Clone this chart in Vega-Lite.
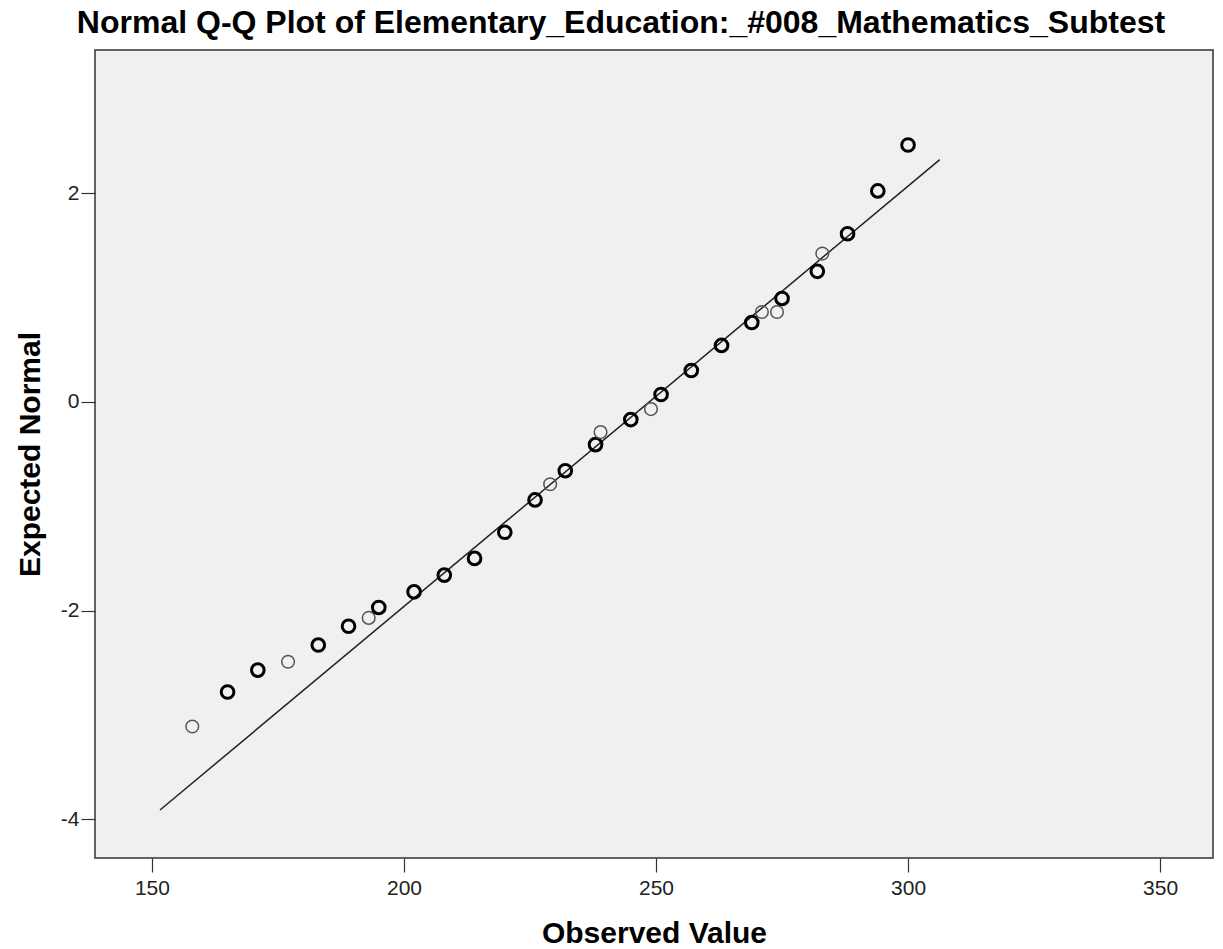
{
  "$schema": "https://vega.github.io/schema/vega-lite/v6.json",
  "width": 1118,
  "height": 808,
  "autosize": "none",
  "padding": {"left": 95, "top": 50, "right": 10, "bottom": 91},
  "background": "white",
  "title": {
    "text": "Normal Q-Q Plot of Elementary_Education:_#008_Mathematics_Subtest",
    "font": "Liberation Sans",
    "fontSize": 32,
    "fontWeight": "bold",
    "color": "black",
    "anchor": "middle",
    "dx": -33,
    "offset": 10
  },
  "config": {
    "view": {"fill": "#f0f0f0", "stroke": "#333333", "strokeWidth": 1.5},
    "axis": {
      "domain": false,
      "grid": false,
      "tickColor": "#333333",
      "tickSize": 14,
      "tickWidth": 1.2,
      "labelFont": "Liberation Sans",
      "labelFontSize": 21,
      "labelColor": "#222222",
      "titleFont": "Liberation Sans",
      "titleFontSize": 30,
      "titleFontWeight": "bold",
      "titleColor": "black"
    }
  },
  "datasets": {
    "points": [
      {"observed": 158, "expected": -3.11, "cases": 1},
      {"observed": 165, "expected": -2.78, "cases": 2},
      {"observed": 171, "expected": -2.57, "cases": 2},
      {"observed": 177, "expected": -2.49, "cases": 1},
      {"observed": 183, "expected": -2.33, "cases": 2},
      {"observed": 189, "expected": -2.15, "cases": 2},
      {"observed": 193, "expected": -2.07, "cases": 1},
      {"observed": 195, "expected": -1.97, "cases": 2},
      {"observed": 202, "expected": -1.82, "cases": 2},
      {"observed": 208, "expected": -1.66, "cases": 2},
      {"observed": 214, "expected": -1.50, "cases": 2},
      {"observed": 220, "expected": -1.25, "cases": 2},
      {"observed": 226, "expected": -0.94, "cases": 2},
      {"observed": 229, "expected": -0.79, "cases": 1},
      {"observed": 232, "expected": -0.66, "cases": 2},
      {"observed": 238, "expected": -0.41, "cases": 2},
      {"observed": 239, "expected": -0.29, "cases": 1},
      {"observed": 245, "expected": -0.17, "cases": 2},
      {"observed": 249, "expected": -0.07, "cases": 1},
      {"observed": 251, "expected": 0.07, "cases": 2},
      {"observed": 257, "expected": 0.30, "cases": 2},
      {"observed": 263, "expected": 0.54, "cases": 2},
      {"observed": 269, "expected": 0.76, "cases": 2},
      {"observed": 271, "expected": 0.86, "cases": 1},
      {"observed": 274, "expected": 0.86, "cases": 1},
      {"observed": 275, "expected": 0.99, "cases": 2},
      {"observed": 282, "expected": 1.25, "cases": 2},
      {"observed": 283, "expected": 1.42, "cases": 1},
      {"observed": 288, "expected": 1.61, "cases": 2},
      {"observed": 294, "expected": 2.02, "cases": 2},
      {"observed": 300, "expected": 2.46, "cases": 2}
    ],
    "refline": [
      {"observed": 151.6, "expected": -3.91},
      {"observed": 306.3, "expected": 2.32}
    ]
  },
  "layer": [
    {
      "data": {"name": "refline"},
      "mark": {"type": "line", "color": "#222222", "strokeWidth": 1.5},
      "encoding": {
        "x": {"field": "observed", "type": "quantitative"},
        "y": {"field": "expected", "type": "quantitative"}
      }
    },
    {
      "data": {"name": "points"},
      "mark": {"type": "point", "filled": false, "size": 160, "opacity": 1},
      "encoding": {
        "x": {
          "field": "observed",
          "type": "quantitative",
          "title": "Observed Value",
          "scale": {"domain": [138.7, 360.5], "nice": false, "zero": false},
          "axis": {"values": [150, 200, 250, 300, 350], "titlePadding": 20, "labelPadding": 5}
        },
        "y": {
          "field": "expected",
          "type": "quantitative",
          "title": "Expected Normal",
          "scale": {"domain": [-4.37, 3.37], "nice": false, "zero": false},
          "axis": {
            "values": [-4, -2, 0, 2],
            "labelExpr": "datum.value < 0 ? '-' + abs(datum.value) : '' + datum.value",
            "titlePadding": 15,
            "labelPadding": 2
          }
        },
        "stroke": {
          "field": "cases",
          "type": "ordinal",
          "scale": {"domain": [1, 2], "range": ["#555555", "#000000"]},
          "legend": null
        },
        "strokeWidth": {
          "field": "cases",
          "type": "ordinal",
          "scale": {"domain": [1, 2], "range": [1.5, 3]},
          "legend": null
        }
      }
    }
  ]
}
